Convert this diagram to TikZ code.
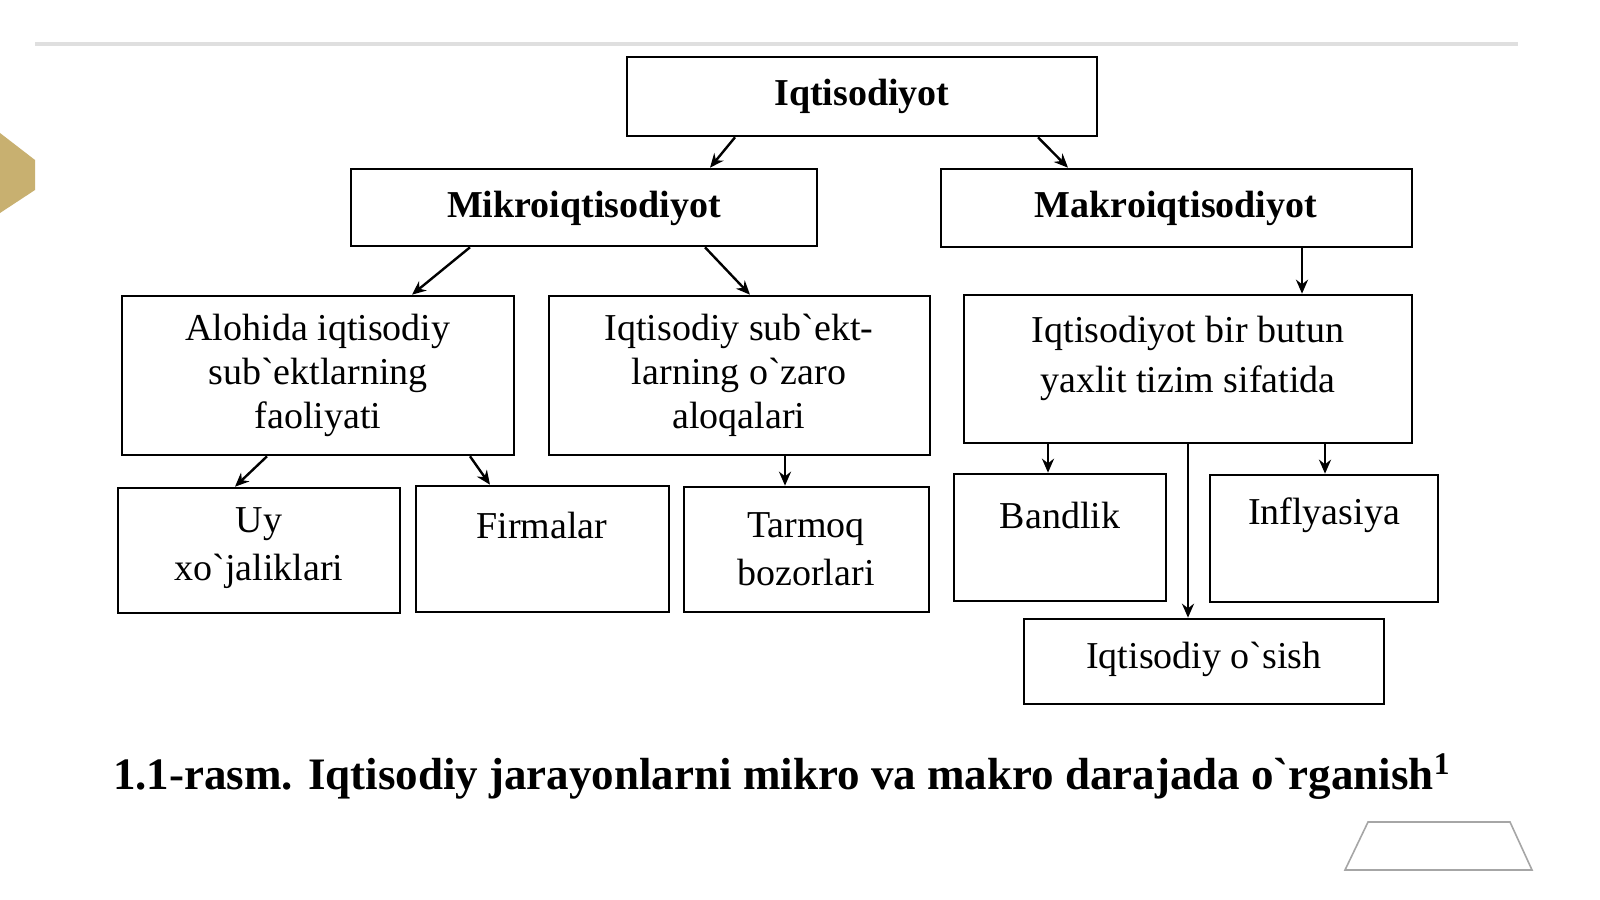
\documentclass[tikz,border=0pt]{standalone}
\usepackage{fontspec}
\setmainfont{Liberation Serif}
\usetikzlibrary{calc,arrows.meta}
\definecolor{gold}{RGB}{200,176,112}
\newcommand{\bq}{\char"02CB\relax}
\begin{document}
\begin{tikzpicture}[x=0.5pt,y=-0.5pt,
 box/.style={draw,line width=1.3pt},
 arr/.style={-{Stealth[length=7pt,width=6pt]},line width=1.2pt},
 tx/.style={font=\fontsize{19}{22}\selectfont,align=center},
 bt/.style={font=\fontsize{19}{22}\selectfont\bfseries,align=center}]
\useasboundingbox (0,0) rectangle (1600,899);
\fill[white] (0,0) rectangle (1600,899);
\draw[gray!25,line width=2pt] (35,44) -- (1518,44);
\fill[gold] (0,133) -- (35,160) -- (35,190) -- (0,213) -- cycle;
\draw[gray!70,line width=0.8pt] (1345,870) -- (1368,822) -- (1510,822) -- (1532,870) -- cycle;
\node[box,minimum width=235pt,minimum height=39.5pt] (iq) at (862,96.5) {};
\node[bt] (iqt) at (862,96) {Iqtisodiyot};
\node[box,minimum width=233pt,minimum height=38.5pt] (mi) at (584,207.5) {};
\node[bt] (mit) at (584,208) {Mikroiqtisodiyot};
\node[box,minimum width=235.5pt,minimum height=39pt] (ma) at (1176.5,208) {};
\node[bt] (mat) at (1176,208) {Makroiqtisodiyot};
\node[box,minimum width=196pt,minimum height=79.5pt] (al) at (318,375.5) {};
\node[tx] (alt) at (318,375) {Alohida iqtisodiy\\sub\bq ektlarning\\faoliyati};
\node[box,minimum width=190.5pt,minimum height=79.5pt] (is) at (739.5,375.5) {};
\node[tx] (ist) at (739,375) {Iqtisodiy sub\bq ekt-\\larning o\bq zaro\\aloqalari};
\node[box,minimum width=224pt,minimum height=74pt] (bb) at (1188,369) {};
\node[tx,font=\fontsize{19}{25}\selectfont] (bbt) at (1188,358) {Iqtisodiyot bir butun\\yaxlit tizim sifatida};
\node[box,minimum width=141pt,minimum height=62.5pt] (uy) at (259,550.5) {};
\node[tx,font=\fontsize{19}{24}\selectfont] (uyt) at (259,548) {Uy\\xo\bq jaliklari};
\node[box,minimum width=126.5pt,minimum height=63pt] (fi) at (542.5,549) {};
\node[tx] (fit) at (542,525) {Firmalar};
\node[box,minimum width=122.5pt,minimum height=62.5pt] (ta) at (806.5,549.5) {};
\node[tx,font=\fontsize{19}{24}\selectfont] (tat) at (806,549) {Tarmoq\\bozorlari};
\node[box,minimum width=106pt,minimum height=63.5pt] (ba) at (1060,537.5) {};
\node[tx] (bat) at (1060,515) {Bandlik};
\node[box,minimum width=114pt,minimum height=63.5pt] (in) at (1324,538.5) {};
\node[tx] (int) at (1324,515) {Inflyasiya};
\node[box,minimum width=180pt,minimum height=42.5pt] (os) at (1204,661.5) {};
\node[tx] (ost) at (1204,659) {Iqtisodiy o\bq sish};
\draw[arr] (iq.south -| 735,0) -- (mi.north -| 710,0);
\draw[arr] (iq.south -| 1038,0) -- (ma.north -| 1068,0);
\draw[arr] (mi.south -| 470,0) -- (al.north -| 412,0);
\draw[arr] (mi.south -| 705,0) -- (is.north -| 750,0);
\draw[arr] (ma.south -| 1302,0) -- (bb.north -| 1302,0);
\draw[arr] (al.south -| 267,0) -- (uy.north -| 235,0);
\draw[arr] (al.south -| 470,0) -- (fi.north -| 490,0);
\draw[arr] (is.south -| 785,0) -- (ta.north -| 785,0);
\draw[arr] (bb.south -| 1048,0) -- (ba.north -| 1048,0);
\draw[arr] (bb.south -| 1325,0) -- (in.north -| 1325,0);
\draw[arr] (bb.south -| 1188,0) -- (os.north -| 1188,0);
\node[font=\fontsize{22.5}{26}\selectfont\bfseries,anchor=west] (cap) at (106,777) {1.1-rasm. Iqtisodiy jarayonlarni mikro va makro darajada o\bq rganish\textsuperscript{1}};
\end{tikzpicture}
\end{document}
